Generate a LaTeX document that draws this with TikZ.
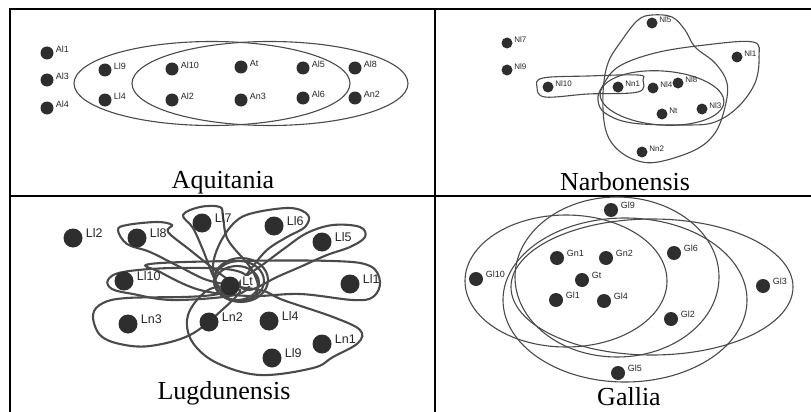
\documentclass[tikz,border=0pt]{standalone}
\usepackage{fontspec}
\setmainfont{Liberation Serif}
\setsansfont{Liberation Sans}
\definecolor{dotgray}{HTML}{2E2E2E}
\definecolor{linegray}{HTML}{4A4A4A}
\tikzset{
  spot/.style={circle, fill=dotgray, inner sep=0pt, minimum size=#1},
  tag/.style={font=\sffamily\fontsize{#1}{#1}\selectfont, inner sep=0.5pt, text=black!85},
  title/.style={font=\fontsize{26}{30}\selectfont, anchor=base, inner sep=0pt},
  frame/.style={line width=2pt, black},
  ring/.style={draw=linegray, line width=1.1pt},
  lasso/.style={draw=linegray, line width=2.1pt},
}
\begin{document}
\begin{tikzpicture}[x=1pt,y=-1pt]
  \useasboundingbox (0,0) rectangle (811,412);
  % table lines
  \draw[frame] (10,412) -- (10,9) -- (811,9);
  \draw[frame] (10,196) -- (811,196);
  \draw[frame] (435,9) -- (435,412);

  % Aquitania
  \draw[ring] (212,83.5) ellipse[x radius=138pt, y radius=42pt];
  \draw[ring] (270,83.5) ellipse[x radius=138pt, y radius=42pt];
  \foreach \n/\x/\y in {Al1/47/53, Al3/47/80, Al4/47/108, Ll9/105/70, Ll4/105/100,
      Al10/172/69, Al2/172/100, At/241/67, An3/241/100, Al5/303/68, Al6/303/98,
      Al8/355/68, An2/355/98}
    \node[spot=13pt, label={[tag=9, label distance=1.5pt, yshift=4pt]right:\n}] (a\n) at (\x,\y) {};
  \node[title] (aqt) at (223,188.5) {Aquitania};

  % Narbonensis
  \draw[ring] plot[smooth cycle, tension=0.6] coordinates {(537,87) (543,78) (588,76) (638,75) (643,80) (638,92) (588,94) (545,97)};
  \draw[ring, rotate around={-4:(662,98)}] (662,98) ellipse[x radius=62pt, y radius=27pt];
  \draw[ring] plot[smooth cycle, tension=0.6] coordinates {(753,42) (705,45) (655,53) (618,67) (602,87) (598,100)
      (605,113) (632,123) (688,125) (715,122) (738,107) (755,83) (759,57)};
  \draw[ring] plot[smooth cycle, tension=0.6] coordinates {(652,15) (672,17) (685,30) (695,47) (715,63) (727,83)
      (725,107) (715,133) (695,150) (658,162) (635,160) (615,147) (605,127) (603,93) (608,63) (622,40) (638,20)};
  \foreach \n/\x/\y in {Nl7/507/43, Nl9/507/70, Nl10/548/87, Nn1/618/87, Nl4/653/88,
      Nl8/678/83, Nt/662/114, Nl3/702/109, Nl1/737/57, Nl5/652/23, Nn2/642/152}
    \node[spot=11pt, label={[tag=8, label distance=1pt, yshift=3pt]right:\n}] (n\n) at (\x,\y) {};
  \node[title] (nbt) at (625,190) {Narbonensis};

  % Lugdunensis
  \draw[lasso] plot[smooth cycle, tension=0.6] coordinates {(118,230) (127,225) (157,222) (172,225) (168,232)
      (190,250) (215,270) (232,284) (207,280) (180,267) (150,252) (127,244)};
  \draw[lasso] plot[smooth cycle, tension=0.6] coordinates {(183,215) (200,207) (220,207) (223,217) (228,240)
      (250,267) (258,287) (250,300) (228,298) (215,280) (203,250) (193,228)};
  \draw[lasso] plot[smooth cycle, tension=0.6] coordinates {(253,213) (290,208) (308,215) (305,227) (287,237)
      (267,250) (250,270) (235,290) (220,290) (213,267) (220,243) (235,222)};
  \draw[lasso] plot[smooth cycle, tension=0.6] coordinates {(307,233) (333,225) (360,227) (365,237) (350,247)
      (327,255) (300,267) (277,277) (250,290) (240,282) (265,263) (285,248)};
  \draw[lasso] plot[smooth cycle, tension=0.6] coordinates {(108,280) (123,272) (173,268) (233,270) (250,282)
      (235,295) (173,300) (133,294) (112,289)};
  \draw[lasso] plot[smooth cycle, tension=0.6] coordinates {(150,264) (233,261) (333,261) (370,266) (380,282)
      (373,297) (353,300) (300,294) (250,296) (200,290) (160,272)};
  \draw[lasso] plot[smooth cycle, tension=0.6] coordinates {(93,315) (103,303) (127,298) (183,297) (213,295)
      (240,290) (222,310) (190,335) (150,346) (120,344) (100,335)};
  \draw[lasso] plot[smooth cycle, tension=0.6] coordinates {(260,290) (283,300) (333,317) (360,330) (358,343)
      (333,357) (313,368) (260,375) (217,363) (193,343) (187,320) (197,300) (217,287)};
  \draw[lasso] (239,281) ellipse[x radius=25pt, y radius=20pt];
  \draw[lasso] (237,283) ellipse[x radius=22pt, y radius=17pt];
  \draw[lasso] (241,280) ellipse[x radius=27pt, y radius=22pt];
  \foreach \n/\x/\y in {Ll2/73/238, Ll8/137/238, Ll7/202/223, Ll6/274/226, Ll5/322/242,
      Ll10/124/281, Ll1/350/284, Ln3/128/324, Ln2/209/322, Ll4/269/321,
      Ll9/272/358, Ln1/322/344}
    \node[spot=19pt, label={[tag=12.5, label distance=2.5pt, yshift=5pt]right:\n}] (l\n) at (\x,\y) {};
  \node[spot=19pt, label={[tag=12.5, fill=white, inner sep=1pt, label distance=1.5pt, yshift=5pt]right:Lt}] (lLt) at (230,286) {};
  \node[title] (lgt) at (224,399) {Lugdunensis};

  % Gallia
  \draw[ring] (566,281) ellipse[x radius=101pt, y radius=66pt];
  \draw[ring] (617,277) ellipse[x radius=102pt, y radius=80pt];
  \draw[ring] (625,300) ellipse[x radius=122pt, y radius=82pt];
  \draw[ring] (652,287) ellipse[x radius=141pt, y radius=68pt];
  \foreach \n/\x/\y in {Gl9/611/210, Gn1/557/258, Gn2/606/258, Gl6/674/253, Gt/582/280,
      Gl10/476/279, Gl3/763/286, Gl1/556/300, Gl4/604/301, Gl2/671/319, Gl5/618/373}
    \node[spot=14pt, label={[tag=9, label distance=2pt, yshift=5pt]right:\n}] (g\n) at (\x,\y) {};
  \node[title] (gat) at (629,405) {Gallia};
\end{tikzpicture}
\end{document}
